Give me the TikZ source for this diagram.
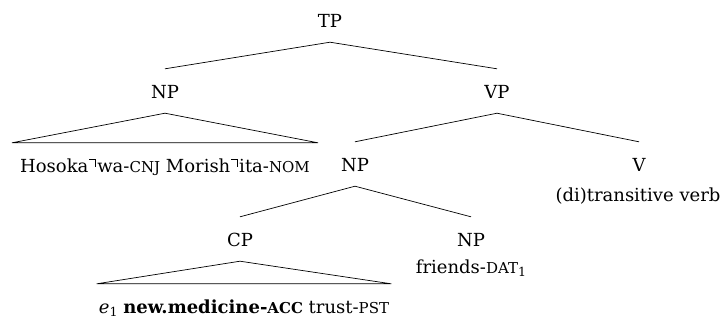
\documentclass[tikz,border=0pt]{standalone}
\usepackage{fontspec}
\setmainfont{DejaVu Serif}
\newcommand\smc[1]{{\fontsize{15}{15}\selectfont #1}}
\newcommand\pitchmark{\kern0.05em\raisebox{0.66em}{\rule{0.34em}{0.055em}\rule[-0.36em]{0.055em}{0.415em}}\kern0.05em}
\newcommand\subone{\raisebox{-0.22em}{\fontsize{12.5}{12.5}\selectfont 1}}
\begin{document}
\begin{tikzpicture}[x=1pt,y=-1pt,
  lab/.style={anchor=base,inner xsep=0pt,inner ysep=10pt,text height=19pt,text depth=5pt,font=\fontsize{18}{20}\selectfont},
  edge/.style={line width=0.7pt,line join=miter}]
\useasboundingbox (0,0) rectangle (721,322);
\node[lab] (TP) at (330,27) {TP};
\node[lab] (NP1) at (165,98) {NP};
\node[lab] (VP) at (497,98) {VP};
\node[lab,inner xsep=8pt] (hoso) at (165,172) {Hosoka\pitchmark wa-\smc{CNJ} Morish\pitchmark ita-\smc{NOM}};
\node[lab] (NP2) at (355,171) {NP};
\node[lab] (V) at (639,171) {V};
\node[lab] (verb) at (638,201) {(di)transitive verb};
\node[lab] (CP) at (240,246) {CP};
\node[lab] (NP3) at (471,246) {NP};
\node[lab] (fr) at (471,273) {friends-\smc{DAT}\subone};
\node[lab,inner xsep=2pt] (e1) at (244,313) {\textit{e}\subone\ \textbf{new.medicine-\smc{ACC}} trust-\smc{PST}};
\draw[edge] (NP1.north) -- (TP.south) -- (VP.north);
\draw[edge] (NP2.north) -- (VP.south) -- (V.north);
\draw[edge] (CP.north) -- (NP2.south) -- (NP3.north);
\draw[edge] (NP1.south) -- (hoso.north west) -- (hoso.north east) -- cycle;
\draw[edge] (CP.south) -- (e1.north west) -- (e1.north east) -- cycle;
\end{tikzpicture}
\end{document}
